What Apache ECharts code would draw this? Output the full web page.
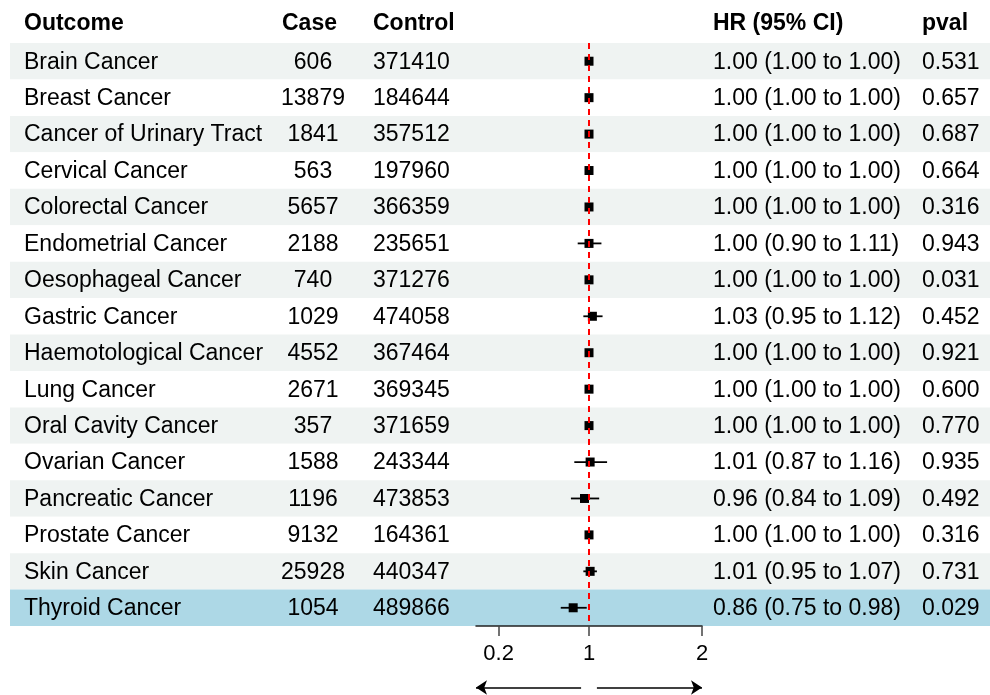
<!DOCTYPE html>
<html>
<head>
<meta charset="utf-8">
<script src="https://cdn.jsdelivr.net/npm/echarts@6/dist/echarts.min.js"></script>
<style>
html,body{margin:0;padding:0;background:#fff;}
#chart{width:990px;height:695px;}
</style>
</head>
<body>
<div id="chart"></div>
<script>
// ---- data ----
const outcomes = ["Brain Cancer","Breast Cancer","Cancer of Urinary Tract","Cervical Cancer","Colorectal Cancer","Endometrial Cancer","Oesophageal Cancer","Gastric Cancer","Haemotological Cancer","Lung Cancer","Oral Cavity Cancer","Ovarian Cancer","Pancreatic Cancer","Prostate Cancer","Skin Cancer","Thyroid Cancer"];
const cases = [606,13879,1841,563,5657,2188,740,1029,4552,2671,357,1588,1196,9132,25928,1054];
const controls = [371410,184644,357512,197960,366359,235651,371276,474058,367464,369345,371659,243344,473853,164361,440347,489866];
const hr = [1.00,1.00,1.00,1.00,1.00,1.00,1.00,1.03,1.00,1.00,1.00,1.01,0.96,1.00,1.01,0.86];
const lower = [1.00,1.00,1.00,1.00,1.00,0.90,1.00,0.95,1.00,1.00,1.00,0.87,0.84,1.00,0.95,0.75];
const upper = [1.00,1.00,1.00,1.00,1.00,1.11,1.00,1.12,1.00,1.00,1.00,1.16,1.09,1.00,1.07,0.98];
const pvals = [0.531,0.657,0.687,0.664,0.316,0.943,0.031,0.452,0.921,0.600,0.770,0.935,0.492,0.316,0.731,0.029];
const headers = ["Outcome","Case","Control","HR (95% CI)","pval"];
const tickValues = [0.2,1,2];
const refValue = 1;
const highlightRows = ["Thyroid Cancer"];
const arrowRanges = [[0.93,0],[1.07,2]];

// ---- layout ----
const FONT = "'Liberation Sans', Arial, Helvetica, sans-serif";
const FS = 23;
const col = {outcome:24, caseC:313, control:373, hr:713, pval:922};
const headerX = [24, 282, 373, 713, 922];
const TEXT_DY = 1;

const chart = echarts.init(document.getElementById('chart'), null, {renderer:'canvas'});

const tableData = outcomes.map((o,i)=>[i]);
const forestData = outcomes.map((o,i)=>[hr[i], lower[i], upper[i], i]);

function fmtHR(i){ return hr[i].toFixed(2)+" ("+lower[i].toFixed(2)+" to "+upper[i].toFixed(2)+")"; }

const option = {
  backgroundColor:'#ffffff',
  animation:false,
  grid:[
    {left:10, right:0, top:43, bottom:69},
    {left:476, width:226, top:43, bottom:69},
    {left:476, width:226, top:680, height:18}
  ],
  xAxis:[
    {gridIndex:0, type:'value', min:10, max:990, show:false},
    {gridIndex:1, type:'value', min:0, max:2,
      axisLine:{show:true, onZero:false, lineStyle:{color:'#222', width:1.5}},
      axisTick:{show:true, customValues:tickValues, length:10, lineStyle:{color:'#444', width:1.5}},
      axisLabel:{customValues:tickValues, fontSize:22, fontFamily:FONT, color:'#000', margin:17},
      splitLine:{show:false}},
    {gridIndex:2, type:'value', min:0, max:2, show:false}
  ],
  yAxis:[
    {gridIndex:0, type:'category', data:outcomes, inverse:true, show:false},
    {gridIndex:1, type:'category', data:outcomes, inverse:true, show:false},
    {gridIndex:2, type:'value', min:0, max:1, show:false}
  ],
  graphic: headers.map((h,k)=>({
    type:'text', left:headerX[k], top:12,
    style:{text:h, font:'bold '+FS+'px '+FONT, fill:'#000'}
  })),
  series:[
    {
      type:'custom', xAxisIndex:0, yAxisIndex:0, z:0, silent:true,
      data:tableData,
      encode:{y:0},
      renderItem:function(params, api){
        const i = api.value(0);
        const c = api.coord([10, i]);
        const bh = api.size([0,1])[1];
        const x0 = api.coord([10,i])[0], x1 = api.coord([990,i])[0];
        let fill = (i % 2 === 0) ? '#eff3f2' : '#ffffff';
        if (highlightRows.indexOf(outcomes[i]) >= 0) fill = '#add8e6';
        const y = c[1] + TEXT_DY;
        const tx = (v)=>api.coord([v,i])[0];
        const font = FS+'px '+FONT;
        return {type:'group', children:[
          {type:'rect', shape:{x:x0, y:c[1]-bh/2, width:x1-x0, height:bh}, style:{fill:fill}},
          {type:'text', x:tx(col.outcome), y:y, style:{text:outcomes[i], font:font, fill:'#000', verticalAlign:'middle', align:'left'}},
          {type:'text', x:tx(col.caseC), y:y, style:{text:String(cases[i]), font:font, fill:'#000', verticalAlign:'middle', align:'center'}},
          {type:'text', x:tx(col.control), y:y, style:{text:String(controls[i]), font:font, fill:'#000', verticalAlign:'middle', align:'left'}},
          {type:'text', x:tx(col.hr), y:y, style:{text:fmtHR(i), font:font, fill:'#000', verticalAlign:'middle', align:'left'}},
          {type:'text', x:tx(col.pval), y:y, style:{text:pvals[i].toFixed(3), font:font, fill:'#000', verticalAlign:'middle', align:'left'}}
        ]};
      }
    },
    {
      type:'custom', xAxisIndex:1, yAxisIndex:1, z:3, silent:true,
      data:forestData,
      encode:{x:[0,1,2], y:3},
      clip:false,
      renderItem:function(params, api){
        const row = api.value(3);
        const p = api.coord([api.value(0), row]);
        const pl = api.coord([api.value(1), row]);
        const ph = api.coord([api.value(2), row]);
        const s = 9;
        return {type:'group', children:[
          {type:'line', shape:{x1:pl[0], y1:pl[1], x2:ph[0], y2:ph[1]}, style:{stroke:'#000', lineWidth:1.8}},
          {type:'rect', shape:{x:p[0]-s/2, y:p[1]-s/2, width:s, height:s}, style:{fill:'#000'}}
        ]};
      }
    },
    {
      type:'scatter', xAxisIndex:1, yAxisIndex:1, z:6, silent:true, data:[],
      markLine:{
        silent:true, symbol:['none','none'], label:{show:false},
        lineStyle:{color:'#ff0000', type:[6,5], width:2},
        data:[{xAxis:refValue}]
      }
    },
    {
      type:'lines', coordinateSystem:'cartesian2d', xAxisIndex:2, yAxisIndex:2, silent:true,
      symbol:['none','arrow'], symbolSize:11,
      lineStyle:{color:'#000', width:1.5, opacity:1},
      data: arrowRanges.map(r=>({coords:[[r[0],0.5],[r[1],0.5]]}))
    }
  ]
};
chart.setOption(option);
</script>
</body>
</html>
